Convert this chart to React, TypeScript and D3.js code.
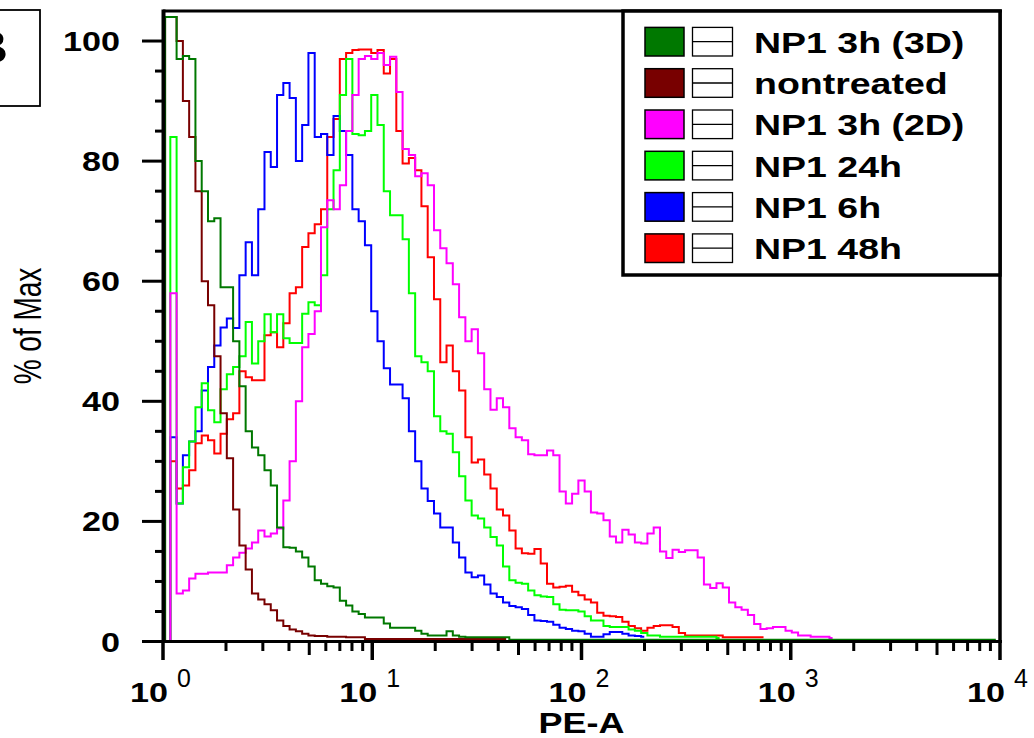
import React from 'react';
import * as d3 from 'd3';

// x positions of histogram bins, in decades of PE-A (10^d)
const peDecade = [
  0, 0.02, 0.05, 0.08, 0.11, 0.14, 0.17, 0.2, 0.23, 0.26,
  0.29, 0.32, 0.35, 0.38, 0.41, 0.44, 0.47, 0.5, 0.53, 0.56,
  0.59, 0.62, 0.65, 0.68, 0.71, 0.74, 0.77, 0.8, 0.83, 0.86,
  0.89, 0.92, 0.95, 0.98, 1.01, 1.04, 1.07, 1.1, 1.13, 1.16,
  1.19, 1.22, 1.25, 1.28, 1.31, 1.34, 1.37, 1.4, 1.43, 1.46,
  1.49, 1.52, 1.55, 1.58, 1.61, 1.64, 1.67, 1.7, 1.73, 1.76,
  1.79, 1.82, 1.85, 1.88, 1.91, 1.94, 1.97, 2.0, 2.03, 2.06,
  2.09, 2.12, 2.15, 2.18, 2.21, 2.24, 2.27, 2.3, 2.33, 2.36,
  2.39, 2.42, 2.45, 2.48, 2.51, 2.54, 2.57, 2.6, 2.63, 2.66,
  2.69, 2.72, 2.75, 2.78, 2.81, 2.84, 2.87, 2.9, 2.93, 2.96,
  2.99, 3.02, 3.05, 3.08, 3.11, 3.14, 3.17, 3.2, 3.4, 3.6,
  3.8, 3.98,
];

const seriesNames = ['NP1 3h (3D)', 'nontreated', 'NP1 3h (2D)', 'NP1 24h', 'NP1 6h', 'NP1 48h'];
const seriesColors = ['#007800', '#780000', '#ff00ff', '#00ff00', '#0000ff', '#ff0000'];

const np1_3h_3D = [
  0, 104, 104, 97, 97.5, 97, 80, 75, 70, 70.5,
  59, 59, 50, 42.5, 35, 32.3, 31, 28.5, 26, 19,
  15.7, 15.6, 15, 14, 12.5, 10.2, 9.6, 9.2, 9, 6.8,
  6, 5, 4.6, 4, 4, 4, 3, 2.3, 2.3, 2.3,
  2.3, 1.8, 1.3, 1, 1, 1, 1.7, 1, 0.8, 0.7,
  0.7, 0.7, 0.7, 0.7, 0.7, 0.7, 0.3, 0.3, 0.3, 0.3,
  0.3, 0.3, 0.3, 0.3, 0.3, 0.3, 0.3, 0.3, 0.3, 0.3,
  0.3, 0.3, 0.3, 0.3, 0.3, 0.3, 0.3, 0.3, 0.3, 0.3,
  0.3, 0.3, 0.3, 0.3, 0.3, 0.3, 0.3, 0.3, 0.3, 0.3,
  0.3, 0.3, 0.3, 0.3, 0.3, 0.3, 0.3, 0.3, 0.3, 0.3,
  0.3, 0.3, 0.3, 0.3, 0.3, 0.3, 0.3, 0.3, 0.3, 0.3,
  0.3, 0.3,
];

const nontreated = [
  0, 104, 104, 100, 90, 84, 75, 60, 56, 47.5,
  38, 30.5, 22, 16, 12, 8, 7, 6.2, 5.2, 3.5,
  2.6, 2, 1.7, 1.3, 1, 0.9, 0.9, 0.8, 0.8, 0.8,
  0.7, 0.7, 0.7, 0.4, 0.4, 0.4, 0.4, 0.4, 0.4, 0.4,
  0.4, 0.4, 0.4, 0.4, 0.4, 0.4, 0.4, 0.4, 0.4, 0.4,
  0.4, 0.4, 0.4, 0.4, 0.4, 0.4,
];

const np1_3h_2D = [
  0, 0, 58, 8, 8.5, 10.5, 11.3, 11.3, 11.5, 11.5,
  11.5, 12.7, 14, 14.8, 15.5, 16.5, 18.5, 17.5, 18, 18.8,
  23.5, 30, 40, 49, 51.2, 55, 69, 73.5, 72, 76,
  85, 91, 97, 97.5, 97, 98, 96, 97.4, 91.5, 82,
  81, 77.5, 78, 76, 68.5, 65.5, 63, 59.5, 54, 50,
  52, 48, 42, 38.6, 40.5, 39, 35.5, 34, 33.5, 31.2,
  31, 31, 31.8, 31, 25, 23, 24.6, 26.8, 25, 21.5,
  21.3, 20.2, 17.5, 16.5, 18.6, 17.8, 16.5, 16.3, 18, 19,
  15, 13.9, 15.3, 14.9, 15.2, 15.2, 14, 9.5, 8.9, 9.7,
  9, 6.5, 5.7, 5.3, 4.4, 2.9, 2.1, 2.2, 2.4, 2.4,
  1.8, 1.5, 1, 1, 0.8, 0.8, 0.8, 0.6,
];

const np1_24h = [
  0, 0, 84, 23, 29, 33.3, 39, 43, 38.5, 36.5,
  42, 44.5, 45.7, 47.5, 53.2, 46.3, 50, 54.5, 51.5, 54.5,
  50.5, 49.7, 49.7, 54.6, 56.5, 56, 61, 72, 78.5, 91,
  97, 84.5, 84.3, 85, 91, 86, 75, 71, 71, 67,
  58, 47.5, 46.5, 45, 37.5, 35, 34.6, 31.5, 27.5, 23.5,
  21, 20.5, 19, 17.4, 16, 12.5, 10.2, 9.8, 9.6, 8.5,
  7.7, 7.5, 7.4, 6.2, 5.3, 5.2, 5.2, 5, 4.2, 3.5,
  3.5, 2.6, 2.4, 2.4, 2.4, 2, 1.8, 1.4, 1, 1,
  0.8, 0.8, 0.8, 0.8, 0.8, 0.8, 0.8, 0.8, 0.8, 0.6,
];

const np1_6h = [
  0, 0, 34, 23, 31, 33.3, 35, 41.8, 45.7, 49.3,
  52.3, 53.8, 52.2, 61, 66.5, 61, 72, 81.5, 79, 91,
  93, 90.5, 80, 86, 98, 84, 84.5, 81, 87.5, 85,
  81, 72, 70, 66, 55, 50, 45.5, 42.8, 42.8, 40.5,
  35, 30, 25.5, 23.4, 21.3, 19, 19, 16.5, 14, 11.5,
  10.7, 11, 9.5, 8, 7.4, 6.5, 5.9, 5.7, 5.4, 4.4,
  3.5, 3.4, 3.3, 2.8, 2.3, 2.1, 1.8, 1.7, 1.3, 0.8,
  0.8, 1.2, 1.6, 1.6, 1.3, 1, 0.9, 0.8,
];

const np1_48h = [
  0, 0, 30, 25.5, 26, 28.5, 33, 34.3, 33.5, 31.3,
  34.6, 37, 38, 45, 44, 43.5, 43.5, 51, 51.5, 49,
  53, 58, 59, 65.7, 68, 69.5, 72, 84, 87, 97,
  98, 98.5, 98.6, 98.6, 98, 98.5, 94.6, 97, 85, 79.6,
  80.5, 78.5, 72.5, 64, 57, 46.5, 49.3, 45, 41.8, 34,
  29.8, 30.3, 27.8, 25.5, 22, 21, 18.5, 15.5, 14.7, 14.6,
  15.4, 13, 9.6, 9, 9.1, 9.3, 8.3, 7.7, 7, 6.5,
  4.8, 4.3, 4.2, 4.1, 3.3, 2.6, 2.2, 1.8, 2.3, 2.6,
  2.7, 2.7, 2.4, 1.4, 1, 1, 1, 1, 1, 1,
  0.7, 0.7, 0.7, 0.7, 0.7, 0.7, 0.7,
];

const yMajorTicks = [0, 20, 40, 60, 80, 100];
const xDecades = [0, 1, 2, 3, 4];
const yAxisLabel = '% of Max';
const xAxisLabel = 'PE-A';
const panelLabel = 'B';

const FONT = '"Liberation Sans", Arial, sans-serif';

export default function App() {
  const W = 1034;
  const H = 738;
  const left = 163;
  const right = 1000;
  const top = 11;
  const bottom = 641.5;

  const x = d3.scaleLog().domain([1, 10000]).range([left, right]);
  const y = d3.scaleLinear().domain([0, 105]).range([bottom, top]);

  const allSeries = [np1_3h_3D, nontreated, np1_3h_2D, np1_24h, np1_6h, np1_48h];

  const line = d3
    .line<[number, number]>()
    .x((d) => x(Math.pow(10, d[0])))
    .y((d) => y(d[1]))
    .curve(d3.curveStep);

  const paths = allSeries.map((vals) =>
    line(vals.map((v, i) => [peDecade[i], v] as [number, number])) || ''
  );

  const yMinor = d3.range(5, 100, 5).filter((v) => v % 20 !== 0);
  const xMinor: { v: number; mid: boolean }[] = [];
  for (let k = 0; k < 4; k++) {
    for (let m = 2; m <= 9; m++) xMinor.push({ v: m * Math.pow(10, k), mid: m === 5 });
  }

  const legendX = 623;
  const legendRow0 = 41.7;
  const legendStep = 41.3;

  const order = [5, 4, 3, 2, 1, 0];

  return (
    <svg
      width={W}
      height={H}
      style={{ position: 'absolute', left: 0, top: 0, display: 'block', background: '#fff' }}
      fontFamily={FONT}
    >
      <rect x={0} y={0} width={W} height={H} fill="#fff" />
      <defs>
        <clipPath id="plotClip">
          <rect x={left} y={top} width={right - left} height={bottom - top + 1} />
        </clipPath>
      </defs>

      {/* panel label */}
      <rect x={-20} y={10} width={60} height={96} fill="none" stroke="#000" strokeWidth={1.8} />
      <text
        transform={`translate(8,63) scale(1.2,1)`}
        textAnchor="end"
        fontWeight="bold"
        fontSize={46}
        fill="#000"
      >
        {panelLabel}
      </text>

      {/* curves */}
      <g clipPath="url(#plotClip)">
        {order.map((si) => (
          <path
            key={si}
            d={paths[si]}
            fill="none"
            stroke={seriesColors[si]}
            strokeWidth={2}
            strokeLinejoin="miter"
          />
        ))}
      </g>

      {/* frame */}
      <line x1={left} x2={right + 2} y1={top} y2={top} stroke="#000" strokeWidth={3} />
      <line x1={right} x2={right} y1={top} y2={bottom} stroke="#000" strokeWidth={3.5} />

      {/* y axis */}
      <line x1={left + 0.5} x2={left + 0.5} y1={top - 1.5} y2={bottom + 1.5} stroke="#000" strokeWidth={4} />
      {yMajorTicks.map((v) => (
        <g key={'ym' + v}>
          <line x1={142} x2={left} y1={y(v)} y2={y(v)} stroke="#000" strokeWidth={3} />
          <text
            transform={`translate(120,${y(v) + 10}) scale(1.22,1)`}
            textAnchor="end"
            fontWeight="bold"
            fontSize={28}
            fill="#000"
          >
            {v}
          </text>
        </g>
      ))}
      {yMinor.map((v) => (
        <line key={'yn' + v} x1={155} x2={left} y1={y(v)} y2={y(v)} stroke="#000" strokeWidth={3} />
      ))}
      <text
        transform={`translate(41,326) scale(1.4,1) rotate(-90)`}
        textAnchor="middle"
        fontSize={28}
        fill="#000"
      >
        {yAxisLabel}
      </text>

      {/* x axis */}
      <line x1={left - 1.5} x2={right + 2} y1={bottom} y2={bottom} stroke="#000" strokeWidth={3} />
      {xDecades.map((e) => {
        const px = x(Math.pow(10, e));
        return (
          <g key={'xd' + e}>
            <line x1={px} x2={px} y1={bottom} y2={660} stroke="#000" strokeWidth={3.5} />
            <text
              transform={`translate(${px + 5},702) scale(1.22,1)`}
              textAnchor="end"
              fontWeight="bold"
              fontSize={28}
              fill="#000"
            >
              10
            </text>
            <text x={px + 14} y={687} fontSize={25} fill="#000">
              {e}
            </text>
          </g>
        );
      })}
      {xMinor.map((t, i) => (
        <line
          key={'xn' + i}
          x1={x(t.v)}
          x2={x(t.v)}
          y1={bottom}
          y2={t.mid ? 655 : 651}
          stroke="#000"
          strokeWidth={3}
        />
      ))}
      <text
        transform={`translate(581.5,733) scale(1.2,1)`}
        textAnchor="middle"
        fontWeight="bold"
        fontSize={30}
        fill="#000"
      >
        {xAxisLabel}
      </text>

      {/* legend */}
      <rect
        x={legendX}
        y={top}
        width={right - legendX}
        height={275 - top}
        fill="#fff"
        stroke="#000"
        strokeWidth={3.5}
      />
      {seriesNames.map((name, i) => {
        const cy = legendRow0 + i * legendStep;
        return (
          <g key={'lg' + i}>
            <rect x={645} y={cy - 14.3} width={39} height={28.6} fill={seriesColors[i]} stroke="#000" strokeWidth={1.5} />
            <rect x={692.5} y={cy - 14.3} width={40} height={28.6} fill="#fff" stroke="#000" strokeWidth={1.3} />
            <line x1={692.5} x2={732.5} y1={cy} y2={cy} stroke="#000" strokeWidth={1.3} />
            <text
              transform={`translate(754,${cy + 11}) scale(1.25,1)`}
              fontWeight="bold"
              fontSize={30}
              fill="#000"
            >
              {name}
            </text>
          </g>
        );
      })}
    </svg>
  );
}
